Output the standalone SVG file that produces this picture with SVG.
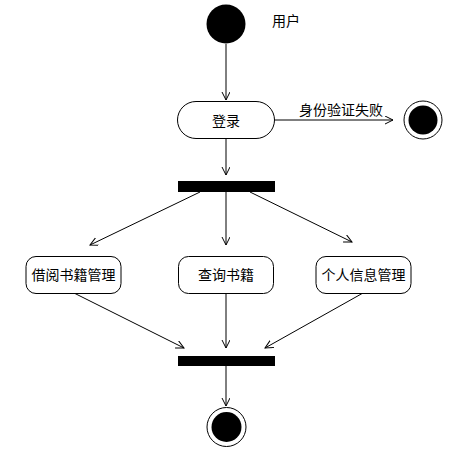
<svg xmlns="http://www.w3.org/2000/svg" width="455" height="458" viewBox="0 0 455 458">
<defs>
<marker id="arr" markerWidth="10" markerHeight="10" refX="8" refY="4" orient="auto" markerUnits="userSpaceOnUse">
<path d="M0,0 L8,4 L0,8" fill="none" stroke="#000" stroke-width="1"/>
</marker>
<style>
.t{font-family:"Noto Sans CJK SC","Liberation Sans",sans-serif;font-size:14px;fill:#000;text-anchor:middle;dominant-baseline:central}
.n{fill:#fff;stroke:#000;stroke-width:1}
.c{fill:none;stroke:#000;stroke-width:1;marker-end:url(#arr)}
</style>
</defs>
<rect width="455" height="458" fill="#fff"/>
<g id="connectors">
<line class="c" x1="226" y1="44" x2="226" y2="100"/>
<line class="c" x1="275" y1="120" x2="393" y2="120"/>
<line class="c" x1="226" y1="139" x2="226" y2="175"/>
<line class="c" x1="200" y1="192" x2="90" y2="245"/>
<line class="c" x1="226" y1="192" x2="226" y2="245"/>
<line class="c" x1="250" y1="192" x2="352" y2="242"/>
<line class="c" x1="74" y1="293" x2="184" y2="348"/>
<line class="c" x1="226" y1="293" x2="226" y2="348"/>
<line class="c" x1="363" y1="293" x2="265" y2="348"/>
<line class="c" x1="226" y1="366" x2="226" y2="406"/>
<text class="t" x="341" y="109">身份验证失败</text>
</g>
<g id="start">
<circle cx="226" cy="24" r="19.5" fill="#000"/>
<text class="t" x="286" y="20">用户</text>
</g>
<g id="login">
<rect class="n" x="177.5" y="101.5" width="97" height="37" rx="18.5"/>
<text class="t" x="226" y="120">登录</text>
</g>
<g id="fail-end">
<circle cx="423" cy="120" r="19" fill="#fff" stroke="#000"/>
<circle cx="423" cy="120" r="14.5" fill="#000"/>
</g>
<g id="fork">
<rect x="178" y="181" width="97" height="11" fill="#000"/>
</g>
<g id="borrow">
<rect class="n" x="26" y="256.5" width="95" height="37" rx="10"/>
<text class="t" x="73.5" y="274">借阅书籍管理</text>
</g>
<g id="query">
<rect class="n" x="178.5" y="256.5" width="95" height="37" rx="10"/>
<text class="t" x="226" y="274">查询书籍</text>
</g>
<g id="personal">
<rect class="n" x="316" y="256.5" width="95" height="37" rx="10"/>
<text class="t" x="363.5" y="274">个人信息管理</text>
</g>
<g id="join">
<rect x="178" y="356" width="97" height="10" fill="#000"/>
</g>
<g id="end">
<circle cx="226.5" cy="427" r="19.5" fill="#fff" stroke="#000"/>
<circle cx="226.5" cy="427" r="15" fill="#000"/>
</g>
</svg>
